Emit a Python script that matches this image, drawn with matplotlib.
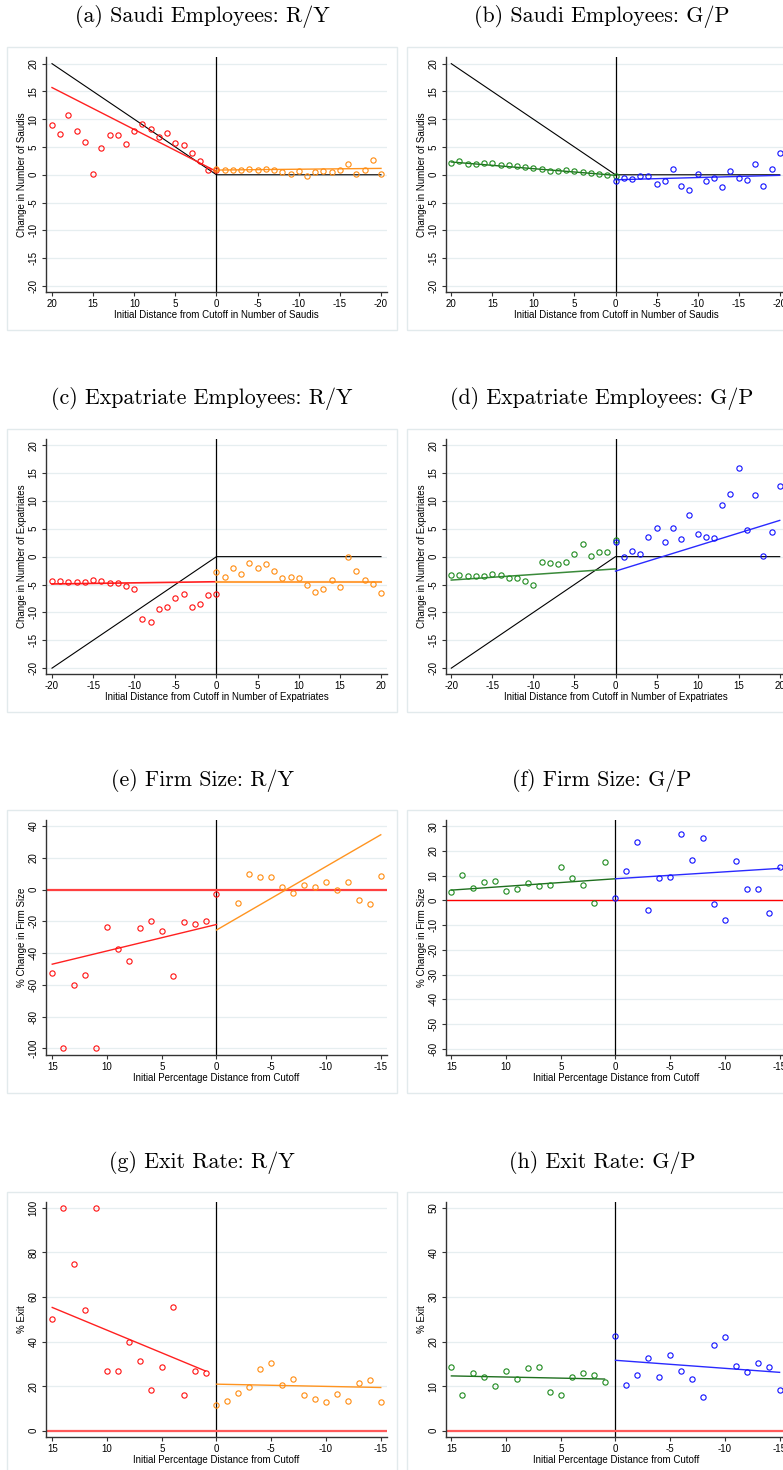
import matplotlib
matplotlib.use('Agg')
import matplotlib.pyplot as plt
from matplotlib.patches import Rectangle
import numpy as np

# ---- data ----
# (a) Saudi employees, R/Y
a_red_x = [20, 19, 18, 17, 16, 15, 14, 13, 12, 11, 10, 9, 8, 7, 6, 5, 4, 3, 2, 1, 0]
a_red_y = [9.0, 7.4, 10.8, 7.9, 5.9, 0.1, 4.9, 7.1, 7.2, 5.6, 7.8, 9.2, 8.3, 6.8, 7.5, 5.8, 5.4, 3.9, 2.5, 0.9, 0.8]
a_org_x = [0, -1, -2, -3, -4, -5, -6, -7, -8, -9, -10, -11, -12, -13, -14, -15, -16, -17, -18, -19, -20]
a_org_y = [1.0, 0.9, 0.8, 0.8, 1.1, 0.8, 1.1, 0.8, 0.5, 0.1, 0.6, -0.2, 0.5, 0.7, 0.5, 0.8, 1.9, 0.1, 0.8, 2.6, 0.2]
a_red_fit = ([20, 0], [15.7, 0.6])
a_org_fit = ([0, -20], [0.85, 1.15])

# (b) Saudi employees, G/P
b_grn_x = [20, 19, 18, 17, 16, 15, 14, 13, 12, 11, 10, 9, 8, 7, 6, 5, 4, 3, 2, 1, 0]
b_grn_y = [2.2, 2.5, 2.0, 2.0, 2.2, 2.1, 1.8, 1.7, 1.5, 1.4, 1.2, 1.1, 0.7, 0.6, 0.8, 0.6, 0.5, 0.3, 0.2, -0.1, -0.2]
b_blu_x = [0, -1, -2, -3, -4, -5, -6, -7, -8, -9, -10, -11, -12, -13, -14, -15, -16, -17, -18, -19, -20]
b_blu_y = [-1.1, -0.5, -0.8, -0.2, -0.3, -1.6, -1.2, 1.0, -2.0, -2.7, 0.2, -1.2, -0.5, -2.2, 0.7, -0.6, -0.9, 2.0, -2.0, 1.0, 4.0]
b_grn_fit = ([20, 0], [2.3, -0.1])
b_blu_fit = ([0, -20], [-0.9, -0.1])

# (c) Expatriate employees, R/Y
c_red_x = [-20, -19, -18, -17, -16, -15, -14, -13, -12, -11, -10, -9, -8, -7, -6, -5, -4, -3, -2, -1, 0]
c_red_y = [-4.3, -4.3, -4.6, -4.6, -4.5, -4.2, -4.3, -4.7, -4.8, -5.3, -5.8, -11.1, -11.8, -9.4, -9.1, -7.5, -6.7, -9.1, -8.5, -6.8, -6.7]
c_org_x = [0, 1, 2, 3, 4, 5, 6, 7, 8, 9, 10, 11, 12, 13, 14, 15, 16, 17, 18, 19, 20]
c_org_y = [-2.7, -3.7, -2.0, -3.1, -1.1, -2.0, -1.4, -2.6, -3.9, -3.7, -3.8, -5.0, -6.3, -5.8, -4.2, -5.4, -0.1, -2.6, -4.2, -4.9, -6.6]
c_red_fit = ([-20, 0], [-4.9, -4.5])
c_org_fit = ([0, 20], [-4.5, -4.5])

# (d) Expatriate employees, G/P
d_grn_x = [-20, -19, -18, -17, -16, -15, -14, -13, -12, -11, -10, -9, -8, -7, -6, -5, -4, -3, -2, -1, 0]
d_grn_y = [-3.3, -3.3, -3.4, -3.5, -3.4, -3.2, -3.3, -3.8, -3.8, -4.4, -5.1, -0.9, -1.2, -1.3, -1.0, 0.4, 2.3, 0.2, 0.9, 0.9, 3.0]
d_blu_x = [0, 1, 2, 3, 4, 5, 6, 7, 8, 9, 10, 11, 12, 13, 14, 15, 16, 17, 18, 19, 20]
d_blu_y = [2.7, -0.1, 1.0, 0.4, 3.5, 5.2, 2.6, 5.1, 3.1, 7.4, 4.1, 3.5, 3.3, 9.2, 11.3, 15.9, 4.7, 11.0, 0.2, 4.5, 12.7]
d_grn_fit = ([-20, 0], [-4.2, -2.2])
d_blu_fit = ([0, 20], [-2.6, 6.5])

# (e) Firm size, R/Y
e_red_x = [15, 14, 13, 12, 11, 10, 9, 8, 7, 6, 5, 4, 3, 2, 1, 0]
e_red_y = [-52.5, -100, -60.2, -54, -100, -23.5, -37.2, -45, -24, -19.7, -26, -54.4, -20.4, -21.6, -19.7, -2.9]
e_org_x = [-2, -3, -4, -5, -6, -7, -8, -9, -10, -11, -12, -13, -14, -15]
e_org_y = [-8.2, 9.9, 7.6, 7.6, 1.3, -2.1, 2.9, 1.3, 4.8, 0.0, 5.0, -6.7, -9.2, 8.4]
e_red_fit = ([15, 0], [-47, -22])
e_org_fit = ([0, -15], [-25.5, 34.5])

# (f) Firm size, G/P
f_grn_x = [15, 14, 13, 12, 11, 10, 9, 8, 7, 6, 5, 4, 3, 2, 1]
f_grn_y = [3.4, 10.4, 5.1, 7.3, 7.7, 4.0, 4.6, 6.9, 5.8, 6.1, 13.4, 9.2, 6.1, -0.9, 15.7]
f_blu_x = [0, -1, -2, -3, -4, -5, -6, -7, -8, -9, -10, -11, -12, -13, -14, -15]
f_blu_y = [1.2, 11.9, 23.6, -3.9, 9.3, 9.4, 26.9, 16.5, 25.5, -1.3, -8.1, 15.8, 4.5, 4.7, -4.9, 13.4]
f_grn_fit = ([15, 0], [4.2, 8.8])
f_blu_fit = ([0, -15], [8.8, 13.0])

# (g) Exit rate, R/Y
g_red_x = [15, 14, 13, 12, 11, 10, 9, 8, 7, 6, 5, 4, 3, 2, 1]
g_red_y = [50.0, 100, 74.9, 54.2, 100, 27.0, 26.9, 39.9, 31.1, 18.2, 28.4, 55.3, 16.1, 27.0, 25.7]
g_org_x = [0, -1, -2, -3, -4, -5, -6, -7, -8, -9, -10, -11, -12, -13, -14, -15]
g_org_y = [11.6, 13.2, 16.8, 19.7, 27.9, 30.2, 20.3, 23.1, 15.9, 14.1, 12.9, 16.4, 13.4, 21.5, 22.7, 13.1]
g_red_fit = ([15, 1], [55.3, 26.8])
g_org_fit = ([0, -15], [20.9, 19.4])

# (h) Exit rate, G/P
h_grn_x = [15, 14, 13, 12, 11, 10, 9, 8, 7, 6, 5, 4, 3, 2, 1]
h_grn_y = [14.3, 8.0, 13.0, 12.1, 10.1, 13.4, 11.5, 14.0, 14.4, 8.8, 8.1, 12.0, 13.0, 12.5, 11.0]
h_blu_x = [0, -1, -2, -3, -4, -5, -6, -7, -8, -9, -10, -11, -12, -13, -14, -15]
h_blu_y = [21.2, 10.3, 12.5, 16.3, 12.1, 17.0, 13.3, 11.7, 7.6, 19.2, 21.0, 14.6, 13.2, 15.1, 14.3, 9.1]
h_grn_fit = ([15, 1], [12.3, 11.6])
h_blu_fit = ([0, -15], [15.8, 13.1])

# 45-degree / zero benchmark lines
ab_bench = ([20, 0, -20], [20, 0, 0])
cd_bench = ([-20, 0, 20], [-20, 0, 0])

titles = ['(a) Saudi Employees: R/Y', '(b) Saudi Employees: G/P',
          '(c) Expatriate Employees: R/Y', '(d) Expatriate Employees: G/P',
          '(e) Firm Size: R/Y', '(f) Firm Size: G/P',
          '(g) Exit Rate: R/Y', '(h) Exit Rate: G/P']

# ---- style ----
plt.rcParams['font.family'] = ['Liberation Sans', 'DejaVu Sans']
plt.rcParams['axes.unicode_minus'] = False
RED, ORG, GRN, BLU = '#ff1010', '#ff8c10', '#1e8a1e', '#1010ff'
RED_L, ORG_L, GRN_L, BLU_L = '#ff2020', '#ff9420', '#1f6f1f', '#2a2aff'
GRID = '#e6eef0'
FS = 7

W, H = 783, 1470
fig = plt.figure(figsize=(W / 100, H / 100), dpi=100)

row_top = [57, 439, 820, 1202]
ax_h = 235
col_left = [46, 445.7]
ax_w = 341
frame_left = [7, 407]
title_x = [202, 602]
title_y = [17, 399, 781, 1163]


def make_ax(r, c):
    x0, y0 = col_left[c], row_top[r]
    fr = Rectangle((frame_left[c] / W, 1 - (y0 + ax_h + 38) / H), 390 / W, (ax_h + 48) / H,
                   transform=fig.transFigure, fill=False, ec='#e2eaec', lw=1.0, zorder=0)
    fig.patches.append(fr)
    fig.text(title_x[c] / W, 1 - title_y[r] / H, titles[2 * r + c], family='cmr10',
             fontsize=15.8, ha='center', va='center')
    return fig.add_axes([x0 / W, 1 - (y0 + ax_h) / H, ax_w / W, ax_h / H])


def style(ax, xlim, ylim, xticks, yticks, xlabel, ylabel):
    ax.set_xlim(xlim)
    ax.set_ylim(ylim)
    ax.set_xticks(xticks)
    ax.set_yticks(yticks)
    for s in ['top', 'right']:
        ax.spines[s].set_visible(False)
    for s in ['left', 'bottom']:
        ax.spines[s].set_color('#333333')
        ax.spines[s].set_linewidth(1.0)
    ax.tick_params(length=3, width=0.8, color='#333333', labelsize=FS, pad=2.2)
    ax.tick_params(axis='y', labelrotation=90)
    for lab in ax.get_yticklabels():
        lab.set_va('center')
    ax.grid(axis='y', color=GRID, lw=0.9)
    ax.set_axisbelow(True)
    ax.set_xlabel(xlabel, fontsize=FS, labelpad=0.5)
    ax.set_ylabel(ylabel, fontsize=FS, labelpad=1.2)
    ax.axvline(0, color='black', lw=0.9, zorder=2)


def pts(ax, x, y, col):
    ax.plot(x, y, 'o', ms=3.8, mfc='none', mec=col, mew=0.8, zorder=3)


def fit(ax, f, col, lw=1.0):
    ax.plot(f[0], f[1], color=col, lw=lw, zorder=2.5)


t20 = [20, 15, 10, 5, 0, -5, -10, -15, -20]
t15 = [15, 10, 5, 0, -5, -10, -15]
y20 = [-20, -15, -10, -5, 0, 5, 10, 15, 20]
lab_s = 'Initial Distance from Cutoff in Number of Saudis'
lab_e = 'Initial Distance from Cutoff in Number of Expatriates'
lab_p = 'Initial Percentage Distance from Cutoff'

# (a)
ax = make_ax(0, 0)
style(ax, (20.73, -20.73), (-21.1, 21.2), t20, y20, lab_s, 'Change in Number of Saudis')
ax.plot(ab_bench[0], ab_bench[1], color='black', lw=0.8, zorder=2)
fit(ax, a_red_fit, RED_L)
fit(ax, a_org_fit, ORG_L)
pts(ax, a_red_x, a_red_y, RED)
pts(ax, a_org_x, a_org_y, ORG)

# (b)
ax = make_ax(0, 1)
style(ax, (20.68, -20.85), (-21.1, 21.2), t20, y20, lab_s, 'Change in Number of Saudis')
ax.plot(ab_bench[0], ab_bench[1], color='black', lw=0.8, zorder=2)
fit(ax, b_grn_fit, GRN_L)
fit(ax, b_blu_fit, BLU_L)
pts(ax, b_grn_x, b_grn_y, GRN)
pts(ax, b_blu_x, b_blu_y, BLU)

# (c)
ax = make_ax(1, 0)
style(ax, (-20.73, 20.73), (-21.05, 21.1), t20[::-1], y20, lab_e, 'Change in Number of Expatriates')
ax.plot(cd_bench[0], cd_bench[1], color='black', lw=0.8, zorder=2)
fit(ax, c_red_fit, RED_L, 1.2)
fit(ax, c_org_fit, '#ffa040', 1.5)
pts(ax, c_red_x, c_red_y, RED)
pts(ax, c_org_x, c_org_y, ORG)

# (d)
ax = make_ax(1, 1)
style(ax, (-20.68, 20.85), (-21.05, 21.1), t20[::-1], y20, lab_e, 'Change in Number of Expatriates')
ax.plot(cd_bench[0], cd_bench[1], color='black', lw=0.8, zorder=2)
fit(ax, d_grn_fit, '#3a8a3a', 1.1)
fit(ax, d_blu_fit, BLU_L)
pts(ax, d_grn_x, d_grn_y, GRN)
pts(ax, d_blu_x, d_blu_y, BLU)

# (e)
ax = make_ax(2, 0)
style(ax, (15.57, -15.57), (-104.2, 43.8), t15, list(range(-100, 41, 20)), lab_p, '% Change in Firm Size')
ax.axhline(0, color='#ff4040', lw=1.6, zorder=2)
fit(ax, e_red_fit, RED_L)
fit(ax, e_org_fit, ORG_L)
pts(ax, e_red_x, e_red_y, RED)
pts(ax, e_org_x, e_org_y, ORG)

# (f)
ax = make_ax(2, 1)
style(ax, (15.52, -15.65), (-62.6, 32.6), t15, list(range(-60, 31, 10)), lab_p, '% Change in Firm Size')
ax.axhline(0, color='#ff0000', lw=1.0, zorder=2)
fit(ax, f_grn_fit, GRN_L)
fit(ax, f_blu_fit, BLU_L)
pts(ax, f_grn_x, f_grn_y, GRN)
pts(ax, f_blu_x, f_blu_y, BLU)

# (g)
ax = make_ax(3, 0)
style(ax, (15.57, -15.57), (-2.8, 102.6), t15, list(range(0, 101, 20)), lab_p, '% Exit')
ax.axhline(0, color='#ff5a5a', lw=1.6, zorder=2)
fit(ax, g_red_fit, RED_L)
fit(ax, g_org_fit, ORG_L)
pts(ax, g_red_x, g_red_y, RED)
pts(ax, g_org_x, g_org_y, ORG)

# (h)
ax = make_ax(3, 1)
style(ax, (15.52, -15.65), (-1.4, 51.3), t15, list(range(0, 51, 10)), lab_p, '% Exit')
ax.axhline(0, color='#ff5a5a', lw=1.6, zorder=2)
fit(ax, h_grn_fit, GRN_L)
fit(ax, h_blu_fit, BLU_L)
pts(ax, h_grn_x, h_grn_y, GRN)
pts(ax, h_blu_x, h_blu_y, BLU)

fig.savefig('out.png', dpi=100)
